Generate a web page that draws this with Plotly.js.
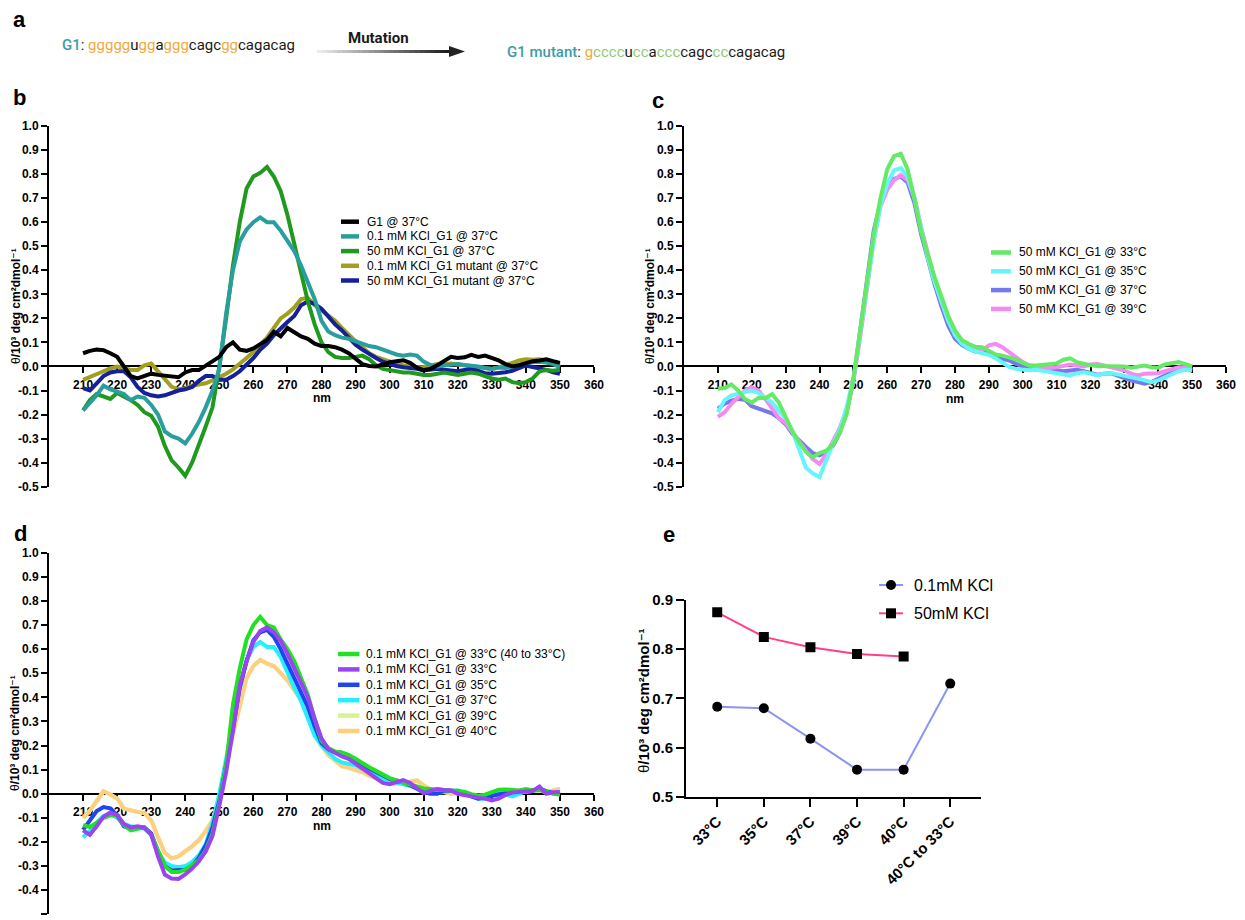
<!DOCTYPE html>
<html><head><meta charset="utf-8">
<script src="https://cdn.plot.ly/plotly-3.0.1.min.js"></script>
<style>html,body{margin:0;padding:0;background:#fff}#chart{width:1245px;height:920px}</style>
</head><body><div id="chart"></div>
<script>
// ---------------- DATA ----------------
const wavelength = [210,212,214,216,218,220,222,224,226,228,
 230,232,234,236,238,240,242,244,246,248,
 250,252,254,256,258,260,262,264,266,268,
 270,272,274,276,278,280,282,284,286,288,
 290,292,294,296,298,300,302,304,306,308,
 310,312,314,316,318,320,322,324,326,328,
 330,332,334,336,338,340,342,344,346,348,
 350];

// panel b
const bNames = ['G1 @ 37°C','0.1 mM KCl_G1 @ 37°C','50 mM KCl_G1 @ 37°C','0.1 mM KCl_G1 mutant @ 37°C','50 mM KCl_G1 mutant @ 37°C'];
const b_G1 = [0.055,0.065,0.07,0.068,0.055,0.04,0.0,-0.04,-0.05,-0.042,
 -0.03,-0.035,-0.038,-0.04,-0.045,-0.025,-0.015,-0.015,0.005,0.02,
 0.04,0.08,0.1,0.07,0.065,0.075,0.095,0.11,0.145,0.125,
 0.16,0.14,0.125,0.115,0.095,0.085,0.085,0.08,0.07,0.055,
 0.035,0.01,0.002,0.0,0.008,0.018,0.022,0.026,0.015,-0.005,
 -0.015,-0.01,0.005,0.025,0.04,0.035,0.038,0.048,0.04,0.045,
 0.035,0.025,0.01,0.0,0.005,0.015,0.022,0.025,0.03,0.022,
 0.015];
const b_KCl01 = [-0.183,-0.15,-0.12,-0.08,-0.095,-0.105,-0.115,-0.14,-0.125,-0.13,
 -0.16,-0.2,-0.27,-0.29,-0.3,-0.32,-0.28,-0.23,-0.17,-0.1,
 -0.01,0.22,0.4,0.52,0.57,0.6,0.62,0.6,0.6,0.565,
 0.525,0.48,0.42,0.35,0.28,0.19,0.145,0.13,0.12,0.115,
 0.105,0.095,0.085,0.08,0.07,0.06,0.05,0.045,0.05,0.045,
 0.02,0.006,0.0,0.004,0.008,0.01,0.006,0.004,0.0,-0.006,
 -0.01,-0.004,-0.006,0.0,0.008,0.014,0.018,0.02,0.016,0.01,
 -0.003];
const b_KCl50 = [-0.183,-0.14,-0.115,-0.125,-0.135,-0.11,-0.125,-0.14,-0.16,-0.19,
 -0.205,-0.25,-0.33,-0.39,-0.42,-0.455,-0.4,-0.33,-0.25,-0.17,
 0.0,0.2,0.42,0.6,0.74,0.79,0.805,0.83,0.79,0.73,
 0.63,0.51,0.39,0.27,0.175,0.1,0.06,0.04,0.035,0.035,
 0.04,0.045,0.03,0.005,-0.01,-0.015,-0.02,-0.025,-0.025,-0.03,
 -0.035,-0.035,-0.03,-0.025,-0.03,-0.035,-0.03,-0.025,-0.03,-0.04,
 -0.05,-0.055,-0.05,-0.065,-0.07,-0.065,-0.05,-0.02,-0.015,-0.018,
 -0.014];
const b_Mut01 = [-0.056,-0.045,-0.035,-0.02,-0.008,0.0,-0.005,-0.015,-0.015,0.005,
 0.012,-0.02,-0.055,-0.085,-0.095,-0.09,-0.08,-0.075,-0.07,-0.058,
 -0.045,-0.03,-0.012,0.01,0.035,0.06,0.09,0.12,0.16,0.2,
 0.22,0.245,0.28,0.285,0.255,0.235,0.21,0.19,0.16,0.13,
 0.105,0.08,0.055,0.04,0.03,0.02,0.012,0.005,0.0,-0.003,
 -0.002,0.004,0.01,0.008,0.012,0.008,0.004,0.0,-0.005,-0.008,
 -0.01,-0.004,0.004,0.015,0.025,0.03,0.028,0.03,0.024,0.015,
 0.005];
const b_Mut50 = [-0.09,-0.1,-0.07,-0.04,-0.025,-0.02,-0.02,-0.045,-0.085,-0.11,
 -0.12,-0.125,-0.12,-0.11,-0.1,-0.095,-0.085,-0.06,-0.04,-0.04,
 -0.055,-0.055,-0.04,-0.02,0.005,0.035,0.07,0.095,0.13,0.16,
 0.185,0.21,0.255,0.27,0.26,0.24,0.205,0.175,0.15,0.12,
 0.09,0.07,0.05,0.035,0.02,0.01,0.002,-0.003,-0.006,-0.01,
 -0.017,-0.014,-0.01,-0.014,-0.017,-0.02,-0.015,-0.01,-0.018,-0.028,
 -0.03,-0.028,-0.024,-0.018,-0.005,0.004,-0.002,-0.006,-0.014,-0.024,
 -0.03];

// panel c
const cNames = ['50 mM KCl_G1 @ 33°C','50 mM KCl_G1 @ 35°C','50 mM KCl_G1 @ 37°C','50 mM KCl_G1 @ 39°C'];
const c_33 = [-0.093,-0.09,-0.075,-0.1,-0.135,-0.15,-0.13,-0.132,-0.115,-0.15,
 -0.21,-0.27,-0.315,-0.355,-0.378,-0.36,-0.35,-0.325,-0.275,-0.2,
 -0.05,0.15,0.35,0.55,0.7,0.82,0.875,0.885,0.82,0.7,
 0.56,0.46,0.37,0.29,0.21,0.15,0.11,0.094,0.082,0.08,
 0.065,0.05,0.045,0.036,0.03,0.015,0.004,0.004,0.006,0.006,
 0.012,0.028,0.034,0.018,0.01,0.005,0.002,0.001,0.004,0.0,
 0.0,-0.005,0.0,0.004,-0.003,-0.005,0.008,0.012,0.018,0.01,
 0.0];
const c_35 = [-0.19,-0.14,-0.12,-0.113,-0.11,-0.1,-0.11,-0.13,-0.15,-0.185,
 -0.215,-0.27,-0.35,-0.42,-0.445,-0.46,-0.39,-0.32,-0.265,-0.17,
 -0.05,0.13,0.33,0.52,0.67,0.76,0.815,0.825,0.79,0.7,
 0.57,0.45,0.35,0.27,0.19,0.13,0.095,0.075,0.062,0.055,
 0.048,0.034,0.018,-0.002,-0.01,-0.014,-0.016,-0.014,-0.019,-0.024,
 -0.025,-0.03,-0.037,-0.028,-0.024,-0.03,-0.036,-0.03,-0.027,-0.033,
 -0.037,-0.045,-0.05,-0.058,-0.065,-0.058,-0.045,-0.03,-0.02,-0.014,
 -0.017];
const c_37 = [-0.175,-0.155,-0.142,-0.135,-0.138,-0.165,-0.175,-0.185,-0.195,-0.215,
 -0.24,-0.28,-0.31,-0.335,-0.36,-0.37,-0.355,-0.33,-0.275,-0.19,
 -0.06,0.15,0.37,0.565,0.68,0.745,0.78,0.79,0.765,0.68,
 0.55,0.44,0.34,0.25,0.17,0.115,0.09,0.074,0.062,0.06,
 0.053,0.04,0.032,0.025,0.011,0.0,-0.005,-0.01,-0.014,-0.014,
 -0.017,-0.02,-0.017,-0.014,-0.02,-0.028,-0.034,-0.03,-0.028,-0.038,
 -0.05,-0.058,-0.065,-0.072,-0.065,-0.052,-0.038,-0.024,-0.01,-0.006,
 -0.014];
const c_39 = [-0.21,-0.19,-0.155,-0.125,-0.1,-0.086,-0.1,-0.135,-0.175,-0.215,
 -0.235,-0.275,-0.315,-0.35,-0.385,-0.405,-0.365,-0.31,-0.255,-0.18,
 -0.06,0.12,0.33,0.525,0.665,0.735,0.775,0.796,0.775,0.705,
 0.58,0.47,0.36,0.27,0.19,0.135,0.1,0.08,0.074,0.067,
 0.088,0.094,0.08,0.06,0.04,0.018,0.004,0.0,-0.003,-0.006,
 -0.003,0.004,0.008,0.004,0.0,0.008,0.01,0.004,-0.003,-0.01,
 -0.017,-0.03,-0.037,-0.03,-0.03,-0.028,-0.02,-0.01,-0.003,-0.003,
 -0.006];

// panel d
const dNames = ['0.1 mM KCl_G1 @ 33°C (40 to 33°C)','0.1 mM KCl_G1 @ 33°C','0.1 mM KCl_G1 @ 35°C','0.1 mM KCl_G1 @ 37°C','0.1 mM KCl_G1 @ 39°C','0.1 mM KCl_G1 @ 40°C'];
const d_40to33 = [-0.13,-0.138,-0.12,-0.1,-0.09,-0.09,-0.13,-0.152,-0.145,-0.14,
 -0.17,-0.24,-0.3,-0.325,-0.325,-0.315,-0.297,-0.275,-0.235,-0.165,
 -0.04,0.12,0.37,0.52,0.64,0.7,0.734,0.7,0.69,0.64,
 0.6,0.55,0.48,0.41,0.31,0.22,0.19,0.175,0.17,0.16,
 0.145,0.125,0.11,0.095,0.08,0.065,0.055,0.048,0.038,0.03,
 0.022,0.02,0.018,0.015,0.015,0.012,0.008,-0.002,-0.007,-0.004,
 0.006,0.017,0.018,0.016,0.014,0.02,0.014,0.016,0.006,0.0,
 -0.003];
const d_33 = [-0.152,-0.17,-0.135,-0.095,-0.078,-0.088,-0.125,-0.14,-0.135,-0.14,
 -0.17,-0.26,-0.335,-0.352,-0.353,-0.335,-0.31,-0.28,-0.24,-0.175,
 -0.05,0.09,0.26,0.45,0.55,0.63,0.675,0.69,0.67,0.635,
 0.58,0.52,0.46,0.4,0.31,0.23,0.185,0.168,0.155,0.145,
 0.125,0.105,0.08,0.062,0.045,0.04,0.048,0.057,0.045,0.025,
 0.002,0.012,0.02,0.016,0.014,0.0,-0.006,-0.014,-0.016,-0.02,
 -0.028,-0.02,-0.005,0.005,0.007,0.012,0.012,0.03,0.0,0.006,
 0.007];
const d_35 = [-0.15,-0.11,-0.072,-0.055,-0.06,-0.09,-0.135,-0.145,-0.138,-0.14,
 -0.165,-0.24,-0.3,-0.318,-0.318,-0.315,-0.3,-0.265,-0.215,-0.14,
 -0.03,0.11,0.27,0.44,0.55,0.637,0.67,0.68,0.651,0.6,
 0.54,0.48,0.42,0.36,0.28,0.21,0.185,0.173,0.17,0.16,
 0.14,0.12,0.105,0.09,0.075,0.062,0.055,0.048,0.035,0.02,
 0.007,0.0,0.0,0.014,0.014,0.011,0.003,-0.011,-0.02,-0.014,
 -0.007,0.0,0.003,0.007,0.011,0.017,0.014,0.021,0.011,0.003,
 0.0];
const d_37 = [-0.18,-0.155,-0.12,-0.092,-0.083,-0.1,-0.125,-0.135,-0.14,-0.145,
 -0.17,-0.24,-0.285,-0.3,-0.305,-0.3,-0.283,-0.255,-0.21,-0.12,
 0.0,0.139,0.29,0.44,0.554,0.609,0.63,0.609,0.609,0.568,
 0.5,0.44,0.385,0.31,0.24,0.2,0.17,0.145,0.13,0.124,
 0.118,0.104,0.09,0.076,0.062,0.055,0.048,0.041,0.03,0.025,
 0.017,0.007,0.003,0.007,0.011,0.014,0.0,-0.011,-0.021,-0.021,
 -0.007,0.0,-0.003,-0.011,0.0,0.011,0.014,0.017,0.007,0.003,
 -0.003];
const d_39 = [-0.1,-0.07,-0.03,0.01,-0.003,-0.02,-0.062,-0.07,-0.075,-0.08,
 -0.11,-0.18,-0.245,-0.268,-0.26,-0.238,-0.218,-0.192,-0.155,-0.11,
 -0.02,0.13,0.25,0.37,0.48,0.53,0.555,0.54,0.53,0.5,
 0.47,0.43,0.39,0.33,0.26,0.2,0.16,0.135,0.115,0.108,
 0.1,0.09,0.075,0.063,0.05,0.042,0.044,0.04,0.05,0.056,
 0.035,0.017,0.014,0.007,0.0,0.003,-0.003,-0.007,-0.021,-0.011,
 0.0,0.007,0.003,0.0,0.007,0.011,0.011,0.014,0.007,0.014,
 0.021];
const d_40 = [-0.1,-0.07,-0.03,0.01,-0.003,-0.02,-0.062,-0.07,-0.075,-0.08,
 -0.11,-0.18,-0.245,-0.268,-0.26,-0.238,-0.218,-0.192,-0.155,-0.11,
 -0.02,0.13,0.25,0.37,0.48,0.53,0.555,0.54,0.53,0.5,
 0.47,0.43,0.39,0.33,0.26,0.2,0.16,0.135,0.115,0.108,
 0.1,0.09,0.075,0.063,0.05,0.042,0.044,0.04,0.05,0.056,
 0.035,0.017,0.014,0.007,0.0,0.003,-0.003,-0.007,-0.021,-0.011,
 0.0,0.007,0.003,0.0,0.007,0.011,0.011,0.014,0.007,0.014,
 0.021];

// panel e
const eCategories = ['33°C','35°C','37°C','39°C','40°C','40°C to 33°C'];
const eNames = ['0.1mM KCl','50mM KCl'];
const e_KCl01 = [0.683,0.680,0.618,0.555,0.555,0.730];
const e_KCl50 = [0.875,0.825,0.804,0.790,0.785,null];

// tick values
const cdYTicks = [-0.5,-0.4,-0.3,-0.2,-0.1,0.0,0.1,0.2,0.3,0.4,0.5,0.6,0.7,0.8,0.9,1.0];
const cdXTicks = [210,220,230,240,250,260,270,280,290,300,310,320,330,340,350,360];
const eYTicks = [0.5,0.6,0.7,0.8,0.9];

// ---------------- STYLE / LAYOUT ----------------
const W = 1245, H = 920;
const PX = v => v / W, PY = v => 1 - v / H;
const FONT = 'Liberation Sans, Arial, DejaVu Sans, sans-serif';

const bColors = ['#000000','#2a9d9d','#1f9a1f','#a0a01e','#16209a'];
const cColors = ['#66ea66','#66f5fa','#7777ee','#f58af5'];
const dColors = ['#22e022','#9944f0','#1f45f0','#22f0ff','#d5f58a','#ffcf80'];
const eColors = ['#8a94f2','#ff3f8e'];

const spec = {
  b: {x0:49, x1:594, y0:126, y1:486.7},
  c: {x0:684, x1:1226, y0:126, y1:486.7},
  d: {x0:49, x1:594, y0:552.7, y1:914.3},
  e: {x0:686, x1:981, y0:600, y1:796.7}
};

function cdAxes(s, yAnchorName){
  const yd = [PY(s.y1), PY(s.y0)];
  const zeroPos = yd[0] + (0 - (-0.5)) / 1.5 * (yd[1] - yd[0]);
  const x = {
    domain:[PX(s.x0), PX(s.x1)], range:[200,360], anchor:'free', position: zeroPos,
    tickmode:'array', tickvals: cdXTicks, ticktext: cdXTicks.map(String),
    ticks:'outside', ticklen:6, tickwidth:2, tickcolor:'#000',
    showline:true, linewidth:2, linecolor:'#000',
    showgrid:false, zeroline:false, layer:'below traces',
    tickfont:{family:FONT, size:12, weight:'bold', color:'#000'}, ticklabelstandoff:1
  };
  const y = {
    domain: yd, range:[-0.5,1.0], anchor: yAnchorName,
    tickmode:'array', tickvals: cdYTicks, ticktext: cdYTicks.map(v=>v.toFixed(1)),
    ticks:'outside', ticklen:6, tickwidth:2, tickcolor:'#000',
    showline:true, linewidth:2, linecolor:'#000',
    showgrid:false, zeroline:false, layer:'below traces',
    tickfont:{family:FONT, size:12, weight:'bold', color:'#000'}
  };
  return [x, y];
}

const [xb, yb] = cdAxes(spec.b, 'x');
const [xc, yc] = cdAxes(spec.c, 'x2');
const [xd, yd] = cdAxes(spec.d, 'x3');

const xe = {
  domain:[PX(spec.e.x0), PX(spec.e.x1)], type:'category', categoryorder:'array', categoryarray:eCategories,
  range:[-0.67, 5.66], anchor:'y4', ticks:'outside', ticklen:8, tickwidth:2, tickcolor:'#000',
  showline:true, linewidth:2, linecolor:'#000', showgrid:false, zeroline:false,
  tickangle:-45, tickfont:{family:FONT, size:15, weight:'bold', color:'#000'}
};
const ye = {
  domain:[PY(spec.e.y1), PY(spec.e.y0)], range:[0.5,0.9], anchor:'x4',
  tickmode:'array', tickvals:eYTicks, ticktext:eYTicks.map(v=>v.toFixed(1)),
  ticks:'outside', ticklen:8, tickwidth:2, tickcolor:'#000',
  showline:true, linewidth:2, linecolor:'#000', showgrid:false, zeroline:false,
  tickfont:{family:FONT, size:15, weight:'bold', color:'#000'}
};

// ---------------- TRACES ----------------
const traces = [];
function addCurve(y, color, xa, ya, name){
  traces.push({type:'scatter', mode:'lines', x:wavelength, y:y, name:name, xaxis:xa, yaxis:ya,
    line:{color:color, width:4}, showlegend:false, hoverinfo:'skip'});
}
// panel b (draw order bottom -> top)
const bSeries = [b_G1, b_KCl01, b_KCl50, b_Mut01, b_Mut50];
[3,4,2,1,0].forEach(i => addCurve(bSeries[i], bColors[i], 'x', 'y', bNames[i]));
// panel c
const cSeries = [c_33, c_35, c_37, c_39];
[2,3,1,0].forEach(i => addCurve(cSeries[i], cColors[i], 'x2', 'y2', cNames[i]));
// panel d
const dSeries = [d_40to33, d_33, d_35, d_37, d_39, d_40];
[4,5,3,2,0,1].forEach(i => addCurve(dSeries[i], dColors[i], 'x3', 'y3', dNames[i]));
// panel e
traces.push({type:'scatter', mode:'lines+markers', x:eCategories, y:e_KCl01, name:eNames[0], xaxis:'x4', yaxis:'y4',
  line:{color:eColors[0], width:2}, marker:{symbol:'circle', size:10, color:'#000'}, showlegend:false, hoverinfo:'skip'});
traces.push({type:'scatter', mode:'lines+markers', x:eCategories, y:e_KCl50, name:eNames[1], xaxis:'x4', yaxis:'y4',
  line:{color:eColors[1], width:2}, marker:{symbol:'square', size:10, color:'#000'}, showlegend:false, hoverinfo:'skip'});

// ---------------- ANNOTATIONS & SHAPES ----------------
const annotations = [];
const shapes = [];
function txt(x, y, text, size, opts){
  annotations.push(Object.assign({xref:'paper', yref:'paper', x:PX(x), y:PY(y), text:text, showarrow:false,
    xanchor:'left', yanchor:'middle', borderpad:0,
    font:{family:FONT, size:size, color:'#000'}}, opts||{}));
}
// panel letters
[['a',20,19],['b',19,97],['c',658,100],['d',20.5,533],['e',669,534.5]].forEach(l =>
  txt(l[1], l[2], l[0], 22, {xanchor:'center', font:{family:FONT, size:22, weight:'bold', color:'#000'}}));

// y titles
function yTitle(sz){
  return '<span style="font-weight:normal;font-size:'+sz+'px">θ</span>/10³ deg cm²dmol⁻¹';
}
[[16,306,12],[650,306,12],[15,733,12],[643,701,15]].forEach(t =>
  txt(t[0], t[1], yTitle(t[2]), t[2], {xanchor:'center', textangle:-90, font:{family:FONT, size:t[2], weight:'bold', color:'#000'}}));
// x titles
[[321.5,398],[955,399],[321.5,826]].forEach(t =>
  txt(t[0], t[1], 'nm', 12, {xanchor:'center', font:{family:FONT, size:12, weight:'bold', color:'#000'}}));

// legends (b, c, d)
function lineLegend(names, colors, sx0, sx1, tx, rows, size){
  names.forEach((n, i) => {
    shapes.push({type:'line', xref:'paper', yref:'paper', x0:PX(sx0), x1:PX(sx1), y0:PY(rows[i]), y1:PY(rows[i]),
      line:{color:colors[i], width:4.5}});
    txt(tx, rows[i], n, size);
  });
}
lineLegend(bNames, bColors, 341, 359, 366, [221.7,236.4,251.1,265.8,280.5], 12);
lineLegend(cNames, cColors, 991, 1011, 1018, [252.5,271.3,290.1,308.9], 12);
lineLegend(dNames, dColors, 338, 359.5, 365, [654,669.4,684.8,700.2,715.6,731], 12);

// legend e
const eRows = [585, 613.3];
eNames.forEach((n, i) => {
  shapes.push({type:'line', xref:'paper', yref:'paper', x0:PX(879), x1:PX(903), y0:PY(eRows[i]), y1:PY(eRows[i]),
    line:{color:eColors[i], width:2}});
  const r = 5;
  shapes.push({type: i===0 ? 'circle' : 'rect', xref:'paper', yref:'paper',
    x0:PX(891-r), x1:PX(891+r), y0:PY(eRows[i]+r), y1:PY(eRows[i]-r), fillcolor:'#000', line:{width:0}});
  txt(913, eRows[i], n, 16);
});

// panel a
const RB = 'Roboto, Liberation Sans, sans-serif';
const teal = '#3b9ea6', orng = '#f2a93b', grn = '#8ecb73';
const sp = (c, s, w) => '<span style="color:'+c+';font-size:15px'+(w?';font-weight:'+w:'')+'">'+s+'</span>';
const o = s => sp(orng, s);
const g = s => sp(grn, s);
const seq1 = sp(teal, 'G1', 500) + ': ' + o('ggggg')+'u'+o('gg')+'a'+o('ggg')+'cagc'+o('gg')+'cagacag';
const seq2 = sp(teal, 'G1 mutant', 500) + ': ' + o('g')+g('cccc')+'u'+g('cc')+'a'+g('ccc')+'cagc'+g('cc')+'cagacag';
txt(61, 45, seq1, 15, {font:{family:RB, size:15, color:'#1a1a1a'}});
txt(506, 51.7, seq2, 15, {font:{family:RB, size:15, color:'#1a1a1a'}});
txt(378, 37.7, 'Mutation', 15, {xanchor:'center', font:{family:RB, size:15, weight:'bold', color:'#1a1a1a'}});
// gradient arrow
const ax0 = 317, ax1 = 450, ay = 51.5, nSeg = 26;
for (let k = 0; k < nSeg; k++){
  const t = k / (nSeg - 1);
  const c = Math.round(235 - t * 205);
  shapes.push({type:'line', xref:'paper', yref:'paper',
    x0:PX(ax0 + (ax1-ax0)*k/nSeg), x1:PX(ax0 + (ax1-ax0)*(k+1)/nSeg + 0.5), y0:PY(ay), y1:PY(ay),
    line:{color:'rgb('+c+','+c+','+c+')', width:3}});
}
shapes.push({type:'path', xref:'paper', yref:'paper',
  path:'M '+PX(449)+' '+PY(ay-5.5)+' L '+PX(465)+' '+PY(ay)+' L '+PX(449)+' '+PY(ay+5.5)+' Z',
  fillcolor:'#222', line:{width:0}});

const layout = {
  width:W, height:H, margin:{l:0, r:0, t:0, b:0},
  paper_bgcolor:'#fff', plot_bgcolor:'rgba(0,0,0,0)', showlegend:false,
  font:{family:FONT, color:'#000'},
  xaxis:xb, yaxis:yb, xaxis2:xc, yaxis2:yc, xaxis3:xd, yaxis3:yd, xaxis4:xe, yaxis4:ye,
  annotations:annotations, shapes:shapes
};
Plotly.newPlot('chart', traces, layout, {staticPlot:true, displayModeBar:false});
</script></body></html>
